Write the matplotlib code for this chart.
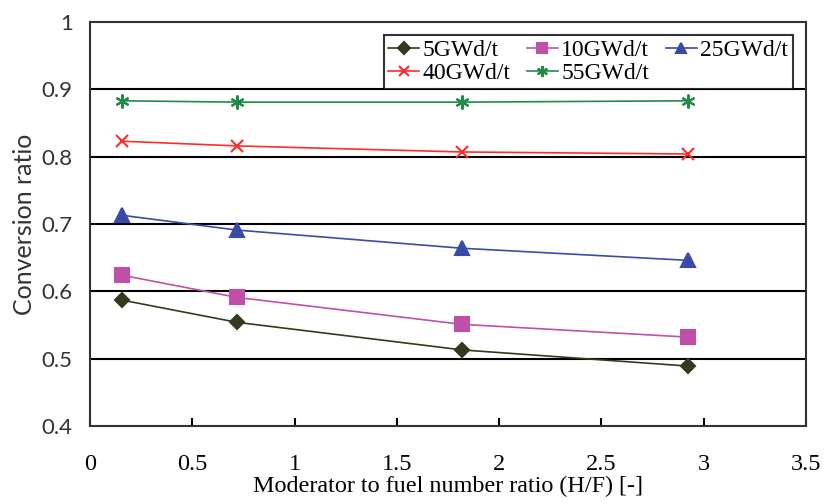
import matplotlib
matplotlib.use("Agg")
import matplotlib.pyplot as plt

hf = [0.156, 0.718, 1.818, 2.923]
labels = ["5GWd/t", "10GWd/t", "25GWd/t", "40GWd/t", "55GWd/t"]
cr_5 = [0.587, 0.554, 0.513, 0.489]
cr_10 = [0.624, 0.591, 0.551, 0.532]
cr_25 = [0.713, 0.691, 0.664, 0.646]
cr_40 = [0.823, 0.816, 0.807, 0.804]
cr_55 = [0.883, 0.881, 0.881, 0.883]
xticks = [0, 0.5, 1, 1.5, 2, 2.5, 3, 3.5]
xticklabels = ["0", "0.5", "1", "1.5", "2", "2.5", "3", "3.5"]
yticks = [0.4, 0.5, 0.6, 0.7, 0.8, 0.9, 1.0]
yticklabels = ["0.4", "0.5", "0.6", "0.7", "0.8", "0.9", "1"]

series = [cr_5, cr_10, cr_25, cr_40, cr_55]
colors = ["#343a1e", "#c04fa8", "#3a4aa8", "#ff2a2a", "#1f8c45"]
markers = ["D", "s", "^", "x", (6, 2, 0)]
msizes = [7.5, 9.5, 9.5, 8.5, 10]

fig = plt.figure(figsize=(8.24, 5.04), dpi=100)
ax = fig.add_axes([0.1092, 0.1548, 0.8689, 0.8015])

handles = []
for y, c, m, ms, lab in zip(series, colors, markers, msizes, labels):
    h, = ax.plot(hf, y, color=c, marker=m, markersize=ms, linewidth=1.2,
                 markeredgewidth=1.5, label=lab)
    handles.append(h)

ax.set_xlim(0, 3.5)
ax.set_ylim(0.4, 1.0)
ax.set_xticks(xticks)
ax.set_xticklabels(xticklabels, fontfamily="Liberation Serif", fontsize=17.5)
ax.set_yticks(yticks)
ax.set_yticklabels(yticklabels, fontfamily="Lato", fontsize=16, color="#333333")
ax.tick_params(axis="x", direction="in", length=6, width=1.5, pad=20.5)
ax.tick_params(axis="y", length=0, pad=12.5)
for y in yticks[1:-1]:
    ax.axhline(y, color="black", linewidth=1.5, zorder=0)
for s in ax.spines.values():
    s.set_linewidth(1.5)
    s.set_color("#333333")

ax.set_xlabel("Moderator to fuel number ratio (H/F) [-]", fontfamily="Liberation Serif",
              fontsize=17.4, labelpad=0)
ax.set_ylabel("Conversion ratio", fontfamily="Lato", fontsize=18, color="#333333", labelpad=4)

order = [0, 3, 1, 4, 2]
leg = ax.legend([handles[i] for i in order], [labels[i] for i in order],
                loc="upper right", ncol=3, bbox_to_anchor=(0.988, 0.98),
                prop={"family": "Liberation Serif", "size": 17},
                frameon=True, fancybox=False, edgecolor="black",
                handlelength=1.3, handletextpad=0.15, columnspacing=0.7,
                borderpad=0.2, labelspacing=0.05, borderaxespad=0.2,
                markerscale=0.8)
leg.get_frame().set_linewidth(1.5)

fig.savefig("out.png", dpi=100)
